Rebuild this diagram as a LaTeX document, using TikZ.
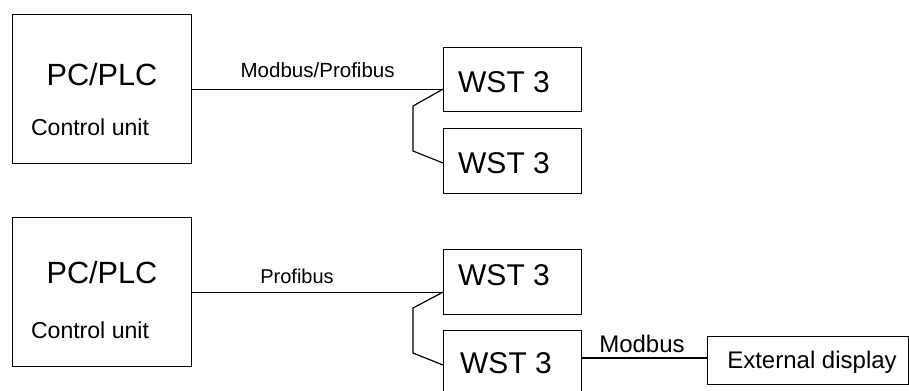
\documentclass[tikz,border=0pt]{standalone}
\usepackage{fontspec}
\setmainfont{Liberation Sans}
\begin{document}
\begin{tikzpicture}[x=0.75pt,y=-0.75pt,
  box/.style={draw,line width=0.9pt,rectangle,inner sep=0pt,anchor=north west},
  wire/.style={line width=0.9pt},
  txt/.style={inner sep=0pt,anchor=base}]
\useasboundingbox[fill=white] (0,0) rectangle (909,390);
% top diagram
\node[box,minimum width=179*0.75pt,minimum height=149*0.75pt] (pc1) at (12,14) {};
\node[txt,font=\fontsize{23}{26}\selectfont] (pc1t) at (102,85) {PC/PLC};
\node[txt,font=\fontsize{17.3}{20}\selectfont] (pc1c) at (90,135) {Control unit};
\node[box,minimum width=138*0.75pt,minimum height=64*0.75pt] (w1) at (443,47) {};
\node[txt,font=\fontsize{22.5}{26}\selectfont] (w1t) at (504,92) {WST 3};
\node[box,minimum width=138*0.75pt,minimum height=65*0.75pt] (w2) at (443,128) {};
\node[txt,font=\fontsize{22.5}{26}\selectfont] (w2t) at (504,173) {WST 3};
\coordinate (j1) at (pc1.east -| w1.west);
\coordinate (k1) at (443,163);
\draw[wire] (pc1.east) -- (j1) node[txt,midway,font=\fontsize{15.4}{18}\selectfont,yshift=8.5pt] (l1) {Modbus/Profibus};
\draw[wire] (j1) -- (413,106) -- (413,151) -- (k1);
% bottom diagram
\node[box,minimum width=179*0.75pt,minimum height=149*0.75pt] (pc2) at (12,217) {};
\node[txt,font=\fontsize{23}{26}\selectfont] (pc2t) at (102,283) {PC/PLC};
\node[txt,font=\fontsize{17.3}{20}\selectfont] (pc2c) at (90,338) {Control unit};
\node[box,minimum width=138*0.75pt,minimum height=65*0.75pt] (w3) at (443,249) {};
\node[txt,font=\fontsize{22.5}{26}\selectfont] (w3t) at (504,285) {WST 3};
\node[box,minimum width=138*0.75pt,minimum height=65*0.75pt] (w4) at (443,330) {};
\node[txt,font=\fontsize{22.5}{26}\selectfont] (w4t) at (506,373) {WST 3};
\node[box,minimum width=201*0.75pt,minimum height=48*0.75pt] (ed) at (707,336) {};
\node[txt,font=\fontsize{18}{21}\selectfont] (edt) at (812,368) {External display};
\coordinate (j2) at (pc2.east -| w3.west);
\coordinate (k2) at (443,365);
\draw[wire] (pc2.east) -- (j2);
\node[txt,font=\fontsize{15}{18}\selectfont] (l2) at (297,283) {Profibus};
\draw[wire] (j2) -- (413,308) -- (413,353) -- (k2);
\coordinate (m1) at (w4.east |- 0,358);
\coordinate (m2) at (ed.west |- 0,358);
\draw[wire] (m1) -- (m2);
\node[txt,font=\fontsize{18}{21}\selectfont] (l3) at (642,352) {Modbus};
\end{tikzpicture}
\end{document}
